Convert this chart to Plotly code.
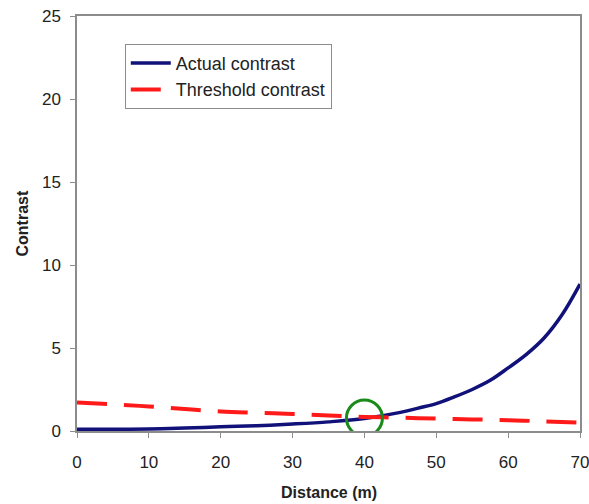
import plotly.graph_objects as go

distance = [0, 5, 10, 15, 20, 25, 30, 35, 40, 45, 47.5, 50, 52.5, 55, 57.5, 60, 62.5, 65, 67.5, 70]
actual_contrast = [0.1, 0.1, 0.12, 0.18, 0.25, 0.32, 0.42, 0.55, 0.75, 1.12, 1.38, 1.65, 2.05, 2.5, 3.05, 3.8, 4.6, 5.6, 7.0, 8.85]
threshold_distance = [0, 5, 10, 15, 20, 25, 30, 35, 40, 45, 50, 55, 60, 65, 70]
threshold_contrast = [1.72, 1.6, 1.48, 1.32, 1.18, 1.1, 1.03, 0.93, 0.85, 0.8, 0.75, 0.7, 0.65, 0.58, 0.5]
crossing_x = [40]
crossing_y = [0.78]
x_title = "Distance (m)"
y_title = "Contrast"

font_family = "Liberation Sans, Arial, sans-serif"

fig = go.Figure()
fig.add_trace(go.Scatter(
    x=distance, y=actual_contrast, mode="lines", name="Actual contrast",
    line=dict(color="#11117a", width=3.5, shape="spline", smoothing=1.0),
))
fig.add_trace(go.Scatter(
    x=threshold_distance, y=threshold_contrast, mode="lines", name="Threshold contrast",
    line=dict(color="#ff1a1a", width=4, dash="30px,17px", shape="spline"),
))
fig.add_trace(go.Scatter(
    x=crossing_x, y=crossing_y, mode="markers", showlegend=False,
    marker=dict(symbol="circle-open", size=36, color="#1a8a1a",
                line=dict(width=3, color="#1a8a1a")),
))

axis_common = dict(
    showgrid=False, zeroline=False, showline=True, linecolor="#8c8c8c",
    linewidth=1.5, mirror=True, ticks="outside", ticklen=5, tickcolor="#8c8c8c",
    tickfont=dict(family=font_family, size=17, color="#222"), automargin=False,
    ticklabeloverflow="allow",
)

fig.update_layout(
    width=589, height=504,
    margin=dict(l=77, r=9, t=16, b=73),
    paper_bgcolor="white", plot_bgcolor="white",
    font=dict(family=font_family, color="#222"),
    xaxis=dict(range=[0, 70], dtick=10, ticklabelstandoff=10, **axis_common),
    yaxis=dict(range=[0, 25], dtick=5, ticklabelstandoff=6, **axis_common),
    legend=dict(x=0.095, y=0.933, xanchor="left", yanchor="top",
                bordercolor="#8c8c8c", borderwidth=1, bgcolor="white",
                font=dict(family=font_family, size=18, color="#222"),
                tracegroupgap=3, itemwidth=40),
    showlegend=True,
    annotations=[
        dict(text=f"<b>{x_title}</b>", xref="paper", yref="paper", x=0.5, y=0,
             xanchor="center", yanchor="middle", yshift=-61, showarrow=False,
             font=dict(family=font_family, size=16, color="#222")),
        dict(text=f"<b>{y_title}</b>", xref="paper", yref="paper", x=0, y=0.5,
             xanchor="center", yanchor="middle", xshift=-55, textangle=-90,
             showarrow=False, font=dict(family=font_family, size=16, color="#222")),
    ],
)

fig.write_html("out.html", config={"displayModeBar": False},
               post_script="document.body.style.margin='0';")
